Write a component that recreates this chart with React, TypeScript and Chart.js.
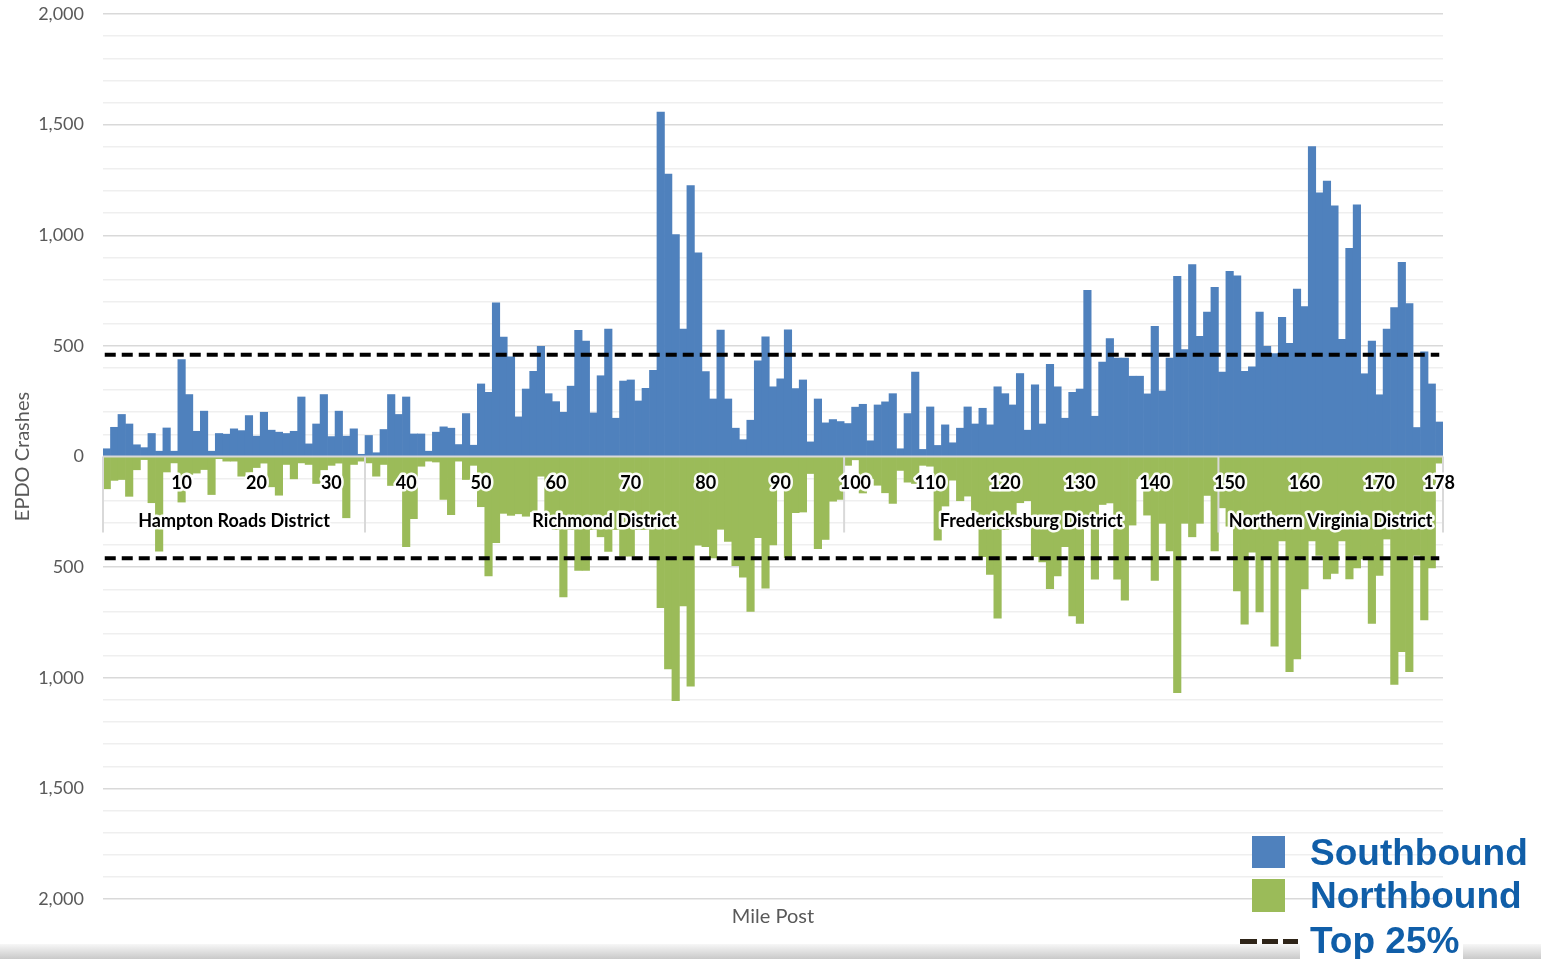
import React, { useEffect, useRef } from "react";
import { Chart, registerables } from "chart.js";

Chart.register(...registerables);

// Categories: mile posts 0 .. 178
const mileposts: string[] = Array.from({ length: 179 }, (_, i) => String(i));

// EPDO crashes, Southbound (plotted upward)
const southbound: number[] = [
  35, 132, 190, 147, 53, 40, 104, 24, 129, 24,
  438, 280, 114, 205, 24, 104, 101, 125, 117, 185,
  92, 200, 119, 110, 104, 114, 269, 57, 147, 280,
  90, 205, 92, 125, 10, 95, 17, 122, 280, 190,
  269, 102, 102, 24, 110, 134, 128, 54, 194, 51,
  328, 290, 694, 540, 450, 179, 305, 385, 498, 284,
  248, 200, 318, 570, 522, 197, 365, 576, 173, 341,
  346, 251, 308, 389, 1557, 1277, 1003, 576, 1225, 920,
  384, 260, 571, 260, 128, 76, 164, 432, 541, 315,
  351, 573, 307, 346, 66, 260, 152, 167, 158, 149,
  223, 236, 71, 233, 247, 284, 35, 194, 381, 32,
  224, 50, 143, 62, 128, 224, 147, 218, 143, 315,
  284, 233, 375, 119, 324, 147, 417, 315, 173, 290,
  305, 751, 182, 427, 533, 445, 445, 363, 363, 283,
  588, 296, 445, 814, 483, 867, 543, 653, 765, 381,
  837, 817, 385, 405, 653, 498, 465, 629, 511, 757,
  678, 1401, 1192, 1245, 1133, 530, 941, 1138, 374, 522,
  279, 576, 673, 878, 691, 131, 473, 328, 156,
];

// EPDO crashes, Northbound (plotted downward)
const northbound: number[] = [
  -146, -108, -104, -180, -60, -14, -209, -428, -70, -29,
  -206, -81, -75, -59, -172, -10, -21, -21, -89, -70,
  -50, -30, -137, -175, -36, -101, -29, -36, -122, -60,
  -40, -30, -277, -36, -21, -29, -89, -36, -131, -119,
  -408, -281, -44, -21, -25, -194, -263, -21, -104, -40,
  -227, -540, -390, -257, -266, -259, -270, -250, -89, -300,
  -330, -635, -330, -515, -515, -330, -363, -429, -330, -450,
  -450, -330, -330, -458, -683, -960, -1104, -675, -1038, -401,
  -407, -458, -329, -384, -493, -545, -700, -367, -595, -400,
  -75, -457, -254, -251, -77, -417, -375, -202, -194, -40,
  -15, -165, -100, -130, -164, -212, -63, -116, -122, -40,
  -44, -378, -224, -107, -200, -179, -250, -453, -533, -731,
  -330, -300, -209, -200, -453, -477, -597, -540, -408, -721,
  -754, -300, -555, -217, -210, -555, -649, -310, -100, -265,
  -560, -302, -427, -1067, -302, -363, -302, -176, -427, -232,
  -315, -608, -758, -432, -703, -463, -857, -381, -972, -915,
  -598, -381, -447, -553, -529, -381, -553, -504, -463, -754,
  -537, -373, -1030, -882, -972, -447, -739, -504, -30,
];

// Top 25% thresholds
const top25Southbound = 460;
const top25Northbound = -460;

// Mile post labels shown along the zero axis
const mileLabels: number[] = [10, 20, 30, 40, 50, 60, 70, 80, 90, 100, 110, 120, 130, 140, 150, 160, 170, 178];

// Districts (first and last mile-post category of each)
const districtNames: string[] = ["Hampton Roads District", "Richmond District", "Fredericksburg District", "Northern Virginia District"];
const districtStarts: number[] = [0, 35, 99, 149];
const districtEnds: number[] = [34, 98, 148, 178];

// Value axis
const yMin = -2000;
const yMax = 2000;
const yStep = 100;
const yLabelStep = 500;

const BLUE = "#4f81bd";
const GREEN = "#9bbb59";
const LEGEND_TEXT = "#105ea8";

export default function App() {
  const ref = useRef<HTMLCanvasElement | null>(null);

  useEffect(() => {
    const canvas = ref.current;
    if (!canvas) return;

    const overlay = {
      id: "overlay",
      afterDatasetsDraw(chart: any) {
        const { ctx, chartArea } = chart;
        const x = chart.scales.x;
        const y = chart.scales.y;
        const y0 = y.getPixelForValue(0);
        const step = x.getPixelForValue(1) - x.getPixelForValue(0);
        ctx.save();

        // zero (category) axis line
        ctx.strokeStyle = "#d9d9d9";
        ctx.lineWidth = 2;
        ctx.beginPath();
        ctx.moveTo(chartArea.left, y0);
        ctx.lineTo(chartArea.right, y0);
        ctx.stroke();

        // district separators
        const bounds = districtStarts.map((s) => x.getPixelForValue(s) - step / 2);
        bounds.push(x.getPixelForValue(districtEnds[districtEnds.length - 1]) + step / 2);
        bounds.forEach((bx) => {
          ctx.beginPath();
          ctx.moveTo(bx, y0);
          ctx.lineTo(bx, y0 + 76);
          ctx.stroke();
        });

        // Top 25% dashed lines
        ctx.strokeStyle = "#000";
        ctx.lineWidth = 4;
        ctx.setLineDash([11, 6]);
        [top25Southbound, top25Northbound].forEach((v) => {
          const py = y.getPixelForValue(v);
          ctx.beginPath();
          ctx.moveTo(x.getPixelForValue(0) - 2, py);
          ctx.lineTo(x.getPixelForValue(mileposts.length - 1), py);
          ctx.stroke();
        });
        ctx.setLineDash([]);

        // labels with white halo
        ctx.textAlign = "center";
        ctx.textBaseline = "alphabetic";
        ctx.lineJoin = "round";
        ctx.lineWidth = 5;
        ctx.strokeStyle = "rgba(255,255,255,0.95)";
        ctx.fillStyle = "#000";
        ctx.font = "bold 18px Lato";
        mileLabels.forEach((m) => {
          const px = x.getPixelForValue(mileposts.indexOf(String(m)));
          ctx.strokeText(String(m), px, y0 + 32);
          ctx.fillText(String(m), px, y0 + 32);
        });
        districtNames.forEach((name, i) => {
          const l = x.getPixelForValue(districtStarts[i]) - step / 2;
          const r = x.getPixelForValue(districtEnds[i]) + step / 2;
          const cx = (l + r) / 2;
          ctx.strokeText(name, cx, y0 + 70);
          ctx.fillText(name, cx, y0 + 70);
        });
        ctx.restore();
      },
      afterDraw(chart: any) {
        const { ctx, chartArea } = chart;
        ctx.save();
        ctx.fillStyle = "#595959";
        ctx.font = "20px Lato";
        ctx.textAlign = "center";
        ctx.textBaseline = "middle";
        ctx.fillText("Mile Post", (chartArea.left + chartArea.right) / 2, 917);
        ctx.translate(29, (chartArea.top + chartArea.bottom) / 2);
        ctx.rotate(-Math.PI / 2);
        ctx.textBaseline = "alphabetic";
        ctx.fillText("EPDO Crashes", 0, 0);
        ctx.restore();
      },
    };

    const chart = new Chart(canvas, {
      type: "bar",
      data: {
        labels: mileposts,
        datasets: [
          {
            label: "Southbound",
            data: southbound,
            backgroundColor: BLUE,
            borderWidth: 0,
            grouped: false,
            barPercentage: 1,
            categoryPercentage: 1,
          } as any,
          {
            label: "Northbound",
            data: northbound,
            backgroundColor: GREEN,
            borderWidth: 0,
            grouped: false,
            barPercentage: 1,
            categoryPercentage: 1,
          } as any,
        ],
      },
      options: {
        responsive: false,
        animation: false,
        devicePixelRatio: 1,
        layout: { padding: { left: 0, right: 98, top: 0, bottom: 60 } },
        plugins: { legend: { display: false }, tooltip: { enabled: false } },
        scales: {
          x: { display: false, offset: true },
          y: {
            min: yMin,
            max: yMax,
            afterFit: (s: any) => {
              s.width = 103;
              s.paddingTop = 14;
              s.paddingBottom = 0;
            },
            border: { display: false },
            grid: {
              drawTicks: false,
              lineWidth: 1.5,
              color: (c: any) => (c.tick && c.tick.value % yLabelStep === 0 ? "#d9d9d9" : "#efefef"),
            },
            ticks: {
              stepSize: yStep,
              autoSkip: false,
              padding: 19,
              color: "#595959",
              font: { family: "Lato", size: 18 },
              callback: (v: any) => (Number(v) % yLabelStep === 0 ? Math.abs(Number(v)).toLocaleString("en-US") : ""),
            },
          },
        },
      },
      plugins: [overlay],
    });

    return () => chart.destroy();
  }, []);

  const legendText: React.CSSProperties = {
    position: "absolute",
    left: 1310,
    fontFamily: "'Liberation Sans', Arial, sans-serif",
    fontWeight: "bold",
    fontSize: 37,
    lineHeight: "37px",
    color: LEGEND_TEXT,
    whiteSpace: "nowrap",
  };

  return (
    <div style={{ position: "fixed", left: 0, top: 0, width: 1541, height: 959, background: "#fff", overflow: "hidden" }}>
      <canvas ref={ref} width={1541} height={959} style={{ position: "absolute", left: 0, top: 0 }} />
      <div style={{ position: "absolute", left: 0, top: 944, width: 1541, height: 15, background: "linear-gradient(to bottom, #f7f7f7, #c9c9c9)" }} />
      <div style={{ position: "absolute", left: 1300, top: 918, width: 163, height: 41, background: "#fff" }} />
      <div style={{ position: "absolute", left: 1252, top: 836, width: 33, height: 32, background: BLUE }} />
      <div style={{ position: "absolute", left: 1252, top: 879, width: 33, height: 33, background: GREEN }} />
      <div style={{ position: "absolute", left: 1240, top: 939, width: 17, height: 5, background: "#2e2418" }} />
      <div style={{ position: "absolute", left: 1262, top: 939, width: 16, height: 5, background: "#2e2418" }} />
      <div style={{ position: "absolute", left: 1283, top: 939, width: 15, height: 5, background: "#2e2418" }} />
      <div style={{ ...legendText, top: 834 }}>Southbound</div>
      <div style={{ ...legendText, top: 877 }}>Northbound</div>
      <div style={{ ...legendText, top: 922 }}>Top 25%</div>
    </div>
  );
}
